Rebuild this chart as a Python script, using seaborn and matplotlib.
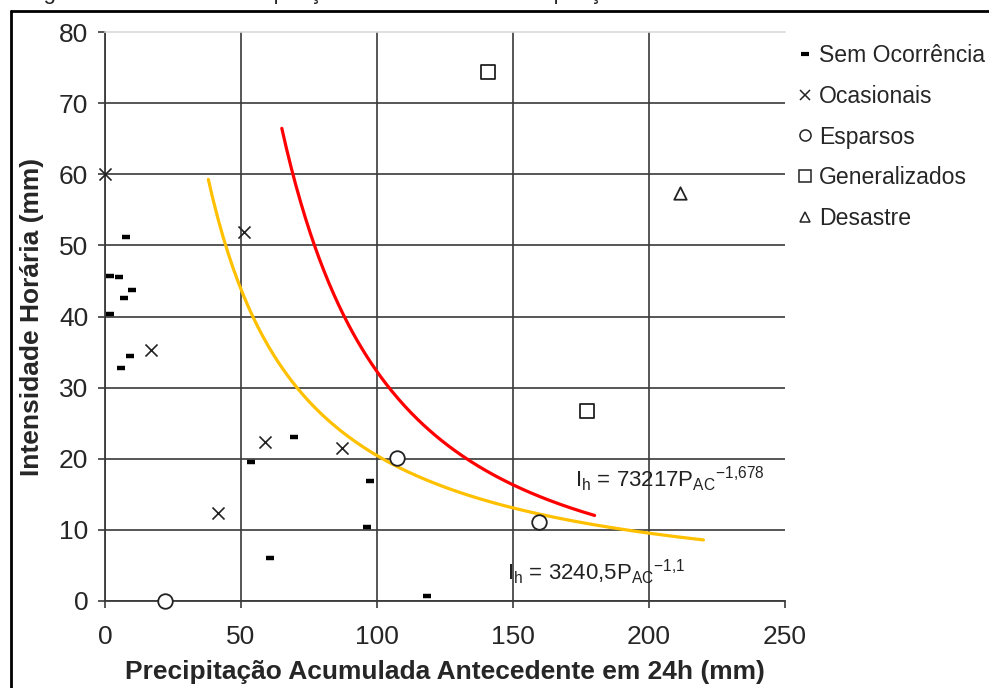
import numpy as np
import pandas as pd
import seaborn as sns
import matplotlib.pyplot as plt
from matplotlib.lines import Line2D

"""
curva de intensidade horaria x precipitacao acumulada antecedente (24h)
"""

# pontos observados, por classe
sem_x = [7.7, 1.8, 5.0, 10.0, 7.1, 1.8, 9.2, 6.0, 69.5, 53.6, 97.4, 96.2, 60.7, 118.4]
sem_y = [51.2, 45.7, 45.5, 43.7, 42.6, 40.4, 34.4, 32.7, 23.0, 19.5, 16.9, 10.4, 6.1, 0.7]
oca_x = [0.0, 51.1, 16.9, 58.8, 87.0, 41.7]
oca_y = [60.0, 51.9, 35.3, 22.3, 21.5, 12.4]
esp_x = [22.1, 107.4, 159.6]
esp_y = [0.0, 20.1, 11.1]
gen_x = [140.8, 177.2]
gen_y = [74.4, 26.7]
des_x = [211.4]
des_y = [57.4]

classes = ['Sem Ocorrência', 'Ocasionais', 'Esparsos', 'Generalizados', 'Desastre']

# curvas ajustadas Ih = a * Pac^b (equacoes do grafico)
red_a, red_b, red_range = 73217, -1.678, (65, 180)
yel_a, yel_b, yel_range = 3240.5, -1.1, (38, 220)

x_ticks = [0, 50, 100, 150, 200, 250]
y_ticks = [0, 10, 20, 30, 40, 50, 60, 70, 80]

sns.set_theme(style='white')
plt.rcParams['font.family'] = ['Liberation Sans', 'DejaVu Sans']
plt.rcParams['mathtext.fontset'] = 'custom'
plt.rcParams['mathtext.rm'] = 'Liberation Sans'
plt.rcParams['mathtext.it'] = 'Liberation Sans'

fig = plt.figure(figsize=(9.89, 6.88), dpi=100)
ax = fig.add_axes([105 / 989, 1 - 601 / 688, 680 / 989, 569 / 688])

grid_col = '#3a3a3a'

# curvas
for a, b, (p0, p1), col in [(red_a, red_b, red_range, 'red'),
                            (yel_a, yel_b, yel_range, '#FFC000')]:
    p = np.linspace(p0, p1, 200)
    curve = pd.DataFrame({'p': p, 'ih': a * p ** b})
    sns.lineplot(data=curve, x='p', y='ih', color=col, lw=2.3, ax=ax, zorder=3)

# pontos
sns.scatterplot(x=sem_x, y=sem_y, marker='_', s=40, color='black',
                linewidths=3.2, ax=ax, zorder=4, clip_on=False)
sns.scatterplot(x=oca_x, y=oca_y, marker='x', s=75, color='#222222',
                linewidths=1.2, ax=ax, zorder=4, clip_on=False)
sns.scatterplot(x=esp_x, y=esp_y, marker='o', s=110, facecolor='white',
                edgecolor='#222222', linewidth=1.3, ax=ax, zorder=4, clip_on=False)
sns.scatterplot(x=gen_x, y=gen_y, marker='s', s=100, facecolor='white',
                edgecolor='#222222', linewidth=1.3, ax=ax, zorder=4, clip_on=False)
sns.scatterplot(x=des_x, y=des_y, marker='^', s=80, facecolor='white',
                edgecolor='#222222', linewidth=1.3, ax=ax, zorder=4, clip_on=False)

# eixos e grade
ax.set_xlim(0, 250)
ax.set_ylim(0, 80)
ax.set_xticks(x_ticks)
ax.set_yticks(y_ticks)
ax.grid(True, color=grid_col, lw=1.2)
ax.xaxis.get_gridlines()[-1].set_visible(False)
ax.yaxis.get_gridlines()[-1].set_visible(False)
ax.tick_params(axis='both', direction='out', length=5, width=1.2, color=grid_col,
               labelsize=19, bottom=True, left=True)
ax.tick_params(axis='x', pad=12)
ax.tick_params(axis='y', pad=7)
for side in ['left', 'bottom']:
    ax.spines[side].set_color(grid_col)
    ax.spines[side].set_linewidth(1.3)
ax.spines['right'].set_visible(False)
ax.spines['top'].set_color('#d9d9d9')
ax.spines['top'].set_linewidth(1.2)

ax.set_xlabel('Precipitação Acumulada Antecedente em 24h (mm)', fontsize=19,
              fontweight='bold', labelpad=8)
ax.set_ylabel('Intensidade Horária (mm)', fontsize=19, fontweight='bold', labelpad=11)

# equacoes
ax.text(172.8, 16.0, r'I$_\mathregular{h}$ = 73217P$_\mathregular{AC}$$^\mathregular{-1{,}678}$',
        fontsize=16, ha='left', va='baseline', color='#222222')
ax.text(147.8, 2.95, r'I$_\mathregular{h}$ = 3240,5P$_\mathregular{AC}$$^\mathregular{-1{,}1}$',
        fontsize=16, ha='left', va='baseline', color='#222222')

# legenda
handles = [
    Line2D([], [], marker='_', ls='none', color='black', markersize=6, mew=3),
    Line2D([], [], marker='x', ls='none', color='#222222', markersize=7, mew=1.1),
    Line2D([], [], marker='o', ls='none', color='#222222', markerfacecolor='white', markersize=8, mew=1.1),
    Line2D([], [], marker='s', ls='none', color='#222222', markerfacecolor='white', markersize=8, mew=1.1),
    Line2D([], [], marker='^', ls='none', color='#222222', markerfacecolor='white', markersize=7, mew=1.1),
]
fig.legend(handles, classes, loc='upper left', bbox_to_anchor=(798 / 989, 1 - 44.5 / 688),
           frameon=False, fontsize=16.6, handlelength=0.6, handletextpad=0.3,
           labelspacing=0.76, borderpad=0, borderaxespad=0)

# moldura da figura e titulo cortado
fig.add_artist(Line2D([10.5 / 989, 10.5 / 989], [0, 1 - 11 / 688], color='black', lw=2))
fig.add_artist(Line2D([10.5 / 989, 1], [1 - 11 / 688, 1 - 11 / 688], color='black', lw=2))
fig.text(25 / 989, 1 + 0.5 / 688,
         'Figura 5 - Curva de Precipitação Horária versus Precipitação Acumulada Antecedente - Classes',
         fontsize=16, ha='left', va='baseline')

plt.savefig('out.png', dpi=100)
